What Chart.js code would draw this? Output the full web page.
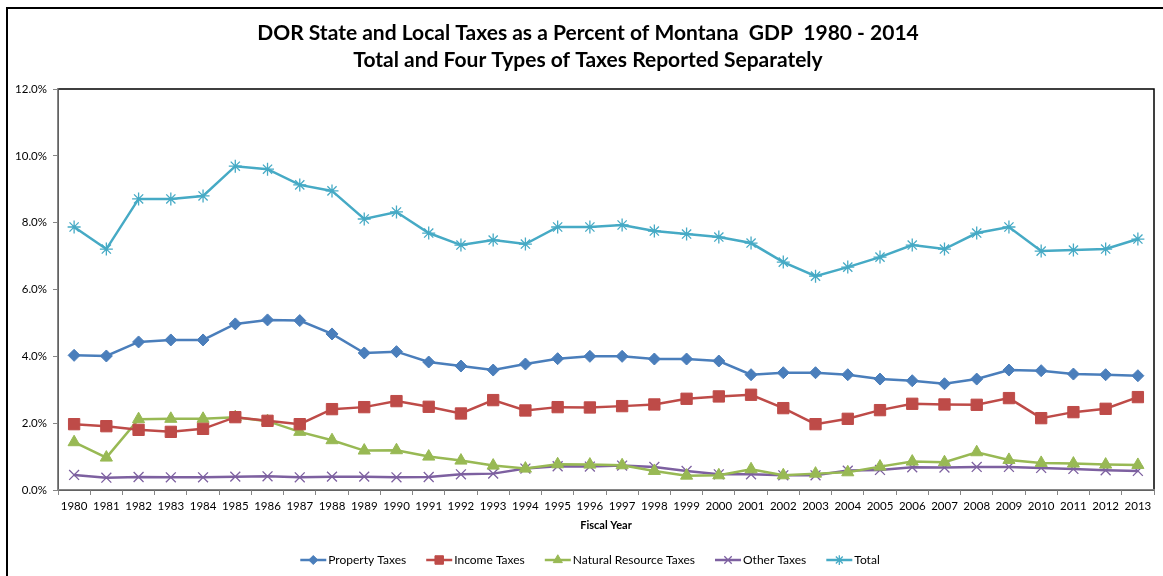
<!DOCTYPE html>
<html>
<head>
<meta charset="utf-8">
<script src="https://cdn.jsdelivr.net/npm/chart.js@4/dist/chart.umd.min.js"></script>
<style>
  html, body { margin: 0; padding: 0; background: #fff; }
</style>
</head>
<body>
<canvas id="chart" width="1163" height="576"></canvas>
<script>
const years = [
  "1980", "1981", "1982", "1983", "1984", "1985", "1986", "1987", "1988", "1989",
  "1990", "1991", "1992", "1993", "1994", "1995", "1996", "1997", "1998", "1999",
  "2000", "2001", "2002", "2003", "2004", "2005", "2006", "2007", "2008", "2009",
  "2010", "2011", "2012", "2013"
];

// values are percent of GDP
const propertyTaxes = [
  4.03, 4.01, 4.43, 4.49, 4.49, 4.97, 5.09, 5.07, 4.67, 4.10,
  4.14, 3.83, 3.71, 3.59, 3.77, 3.93, 4.00, 4.00, 3.92, 3.92,
  3.86, 3.45, 3.51, 3.51, 3.45, 3.32, 3.27, 3.18, 3.32, 3.59,
  3.57, 3.47, 3.45, 3.42
];
const incomeTaxes = [
  1.97, 1.91, 1.80, 1.74, 1.83, 2.18, 2.07, 1.97, 2.42, 2.48,
  2.66, 2.49, 2.29, 2.69, 2.38, 2.48, 2.47, 2.51, 2.56, 2.73,
  2.80, 2.85, 2.45, 1.97, 2.13, 2.39, 2.58, 2.56, 2.55, 2.75,
  2.15, 2.33, 2.43, 2.78
];
const naturalResourceTaxes = [
  1.43, 0.97, 2.12, 2.13, 2.13, 2.18, 2.06, 1.74, 1.49, 1.18,
  1.19, 1.00, 0.88, 0.73, 0.64, 0.77, 0.76, 0.74, 0.57, 0.43,
  0.44, 0.62, 0.44, 0.49, 0.53, 0.70, 0.85, 0.83, 1.13, 0.90,
  0.81, 0.79, 0.76, 0.75
];
const otherTaxes = [
  0.45, 0.37, 0.39, 0.38, 0.38, 0.40, 0.41, 0.38, 0.40, 0.40,
  0.38, 0.39, 0.47, 0.49, 0.64, 0.71, 0.70, 0.73, 0.69, 0.57,
  0.47, 0.47, 0.44, 0.44, 0.58, 0.60, 0.68, 0.67, 0.69, 0.69,
  0.66, 0.63, 0.59, 0.57
];
const totalTaxes = [
  7.87, 7.21, 8.71, 8.71, 8.80, 9.69, 9.60, 9.13, 8.95, 8.11,
  8.32, 7.69, 7.33, 7.48, 7.36, 7.87, 7.87, 7.93, 7.75, 7.66,
  7.57, 7.39, 6.82, 6.40, 6.67, 6.97, 7.33, 7.21, 7.69, 7.87,
  7.15, 7.18, 7.21, 7.51
];
const yTicks = [0, 2, 4, 6, 8, 10, 12];

const titleLines = [
  "DOR State and Local Taxes as a Percent of Montana  GDP  1980 - 2014",
  "Total and Four Types of Taxes Reported Separately"
];

const FONT = "Lato, 'Open Sans', sans-serif";
const axisGray = "#868686";

const colors = {
  property: "#4A7EBB",
  income: "#BE4B48",
  natural: "#98B954",
  other: "#7D60A0",
  total: "#46AAC5",
};

// frame, title and plot border
const framePlugin = {
  id: "frame",
  beforeDraw(chart) {
    const { ctx, chartArea } = chart;
    ctx.save();
    ctx.fillStyle = "#fff";
    ctx.fillRect(0, 0, chart.width, chart.height);
    ctx.strokeStyle = "#000";
    ctx.lineWidth = 2;
    ctx.strokeRect(7, 8, chart.width + 10, chart.height + 10);
    ctx.lineWidth = 1.5;
    ctx.strokeRect(chartArea.left, chartArea.top, chartArea.right - chartArea.left, chartArea.bottom - chartArea.top);

    ctx.fillStyle = "#000";
    ctx.font = "bold 21px " + FONT;
    ctx.textAlign = "center";
    ctx.textBaseline = "middle";
    ctx.fillText(titleLines[0], 588, 33);
    ctx.fillText(titleLines[1], 588, 60);
    ctx.restore();
  },
};

// Excel style legend: line with marker through it
const legendPlugin = {
  id: "lineLegend",
  afterDraw(chart) {
    const { ctx } = chart;
    const sets = chart.data.datasets;
    ctx.save();
    ctx.font = "12px " + FONT;
    ctx.textBaseline = "middle";
    ctx.textAlign = "left";
    const lineW = 26, gap = 2, spacing = 20;
    const widths = sets.map(d => lineW + gap + ctx.measureText(d.label).width);
    const total = widths.reduce((a, b) => a + b, 0) + spacing * (sets.length - 1);
    let x = 590 - total / 2;
    const y = 560;
    sets.forEach((d, i) => {
      ctx.strokeStyle = d.borderColor;
      ctx.lineWidth = 2.5;
      ctx.beginPath();
      ctx.moveTo(x, y);
      ctx.lineTo(x + lineW, y);
      ctx.stroke();
      ctx.fillStyle = d.pointBackgroundColor;
      ctx.strokeStyle = d.pointBorderColor;
      ctx.lineWidth = d.pointBorderWidth;
      Chart.helpers.drawPoint(ctx, {
        pointStyle: d.pointStyle,
        radius: d.pointRadius * 0.75,
        rotation: 0,
        borderWidth: d.pointBorderWidth,
      }, x + lineW / 2, y);
      ctx.fillStyle = "#000";
      ctx.fillText(d.label, x + lineW + gap, y);
      x += widths[i] + spacing;
    });
    ctx.restore();
  },
};

function series(label, data, color, style, radius, bw) {
  return {
    label: label,
    data: data,
    borderColor: color,
    backgroundColor: color,
    borderWidth: 2.5,
    pointStyle: style,
    pointRadius: radius,
    pointHoverRadius: radius,
    pointBackgroundColor: color,
    pointBorderColor: color,
    pointBorderWidth: bw,
    tension: 0,
  };
}

new Chart(document.getElementById("chart"), {
  type: "line",
  data: {
    labels: years,
    datasets: [
      series("Property Taxes", propertyTaxes, colors.property, "rectRot", 6, 1),
      series("Income Taxes", incomeTaxes, colors.income, "rect", 8, 1),
      series("Natural Resource Taxes", naturalResourceTaxes, colors.natural, "triangle", 7, 1),
      series("Other Taxes", otherTaxes, colors.other, "crossRot", 7, 1.3),
      series("Total", totalTaxes, colors.total, "star", 6.5, 1.3),
    ],
  },
  options: {
    responsive: false,
    animation: false,
    layout: { padding: { top: 89, right: 6, bottom: 44, left: 0 } },
    plugins: {
      legend: { display: false },
      title: { display: false },
      tooltip: { enabled: false },
    },
    scales: {
      x: {
        type: "category",
        offset: true,
        afterFit: s => { s.height = 42; },
        grid: { display: true, offset: true, drawOnChartArea: false, tickLength: 5, color: axisGray },
        border: { color: axisGray, width: 1.5 },
        ticks: {
          autoSkip: false, maxRotation: 0, minRotation: 0, padding: 4,
          color: "#000", font: { family: FONT, size: 11.5 },
        },
        title: {
          display: true, text: "Fiscal Year", color: "#000",
          font: { family: FONT, size: 11, weight: "bold" },
          padding: { top: 0, bottom: 0 },
        },
      },
      y: {
        min: 0,
        max: 12,
        afterFit: s => { s.width = 58; },
        afterBuildTicks: s => { s.ticks = yTicks.map(v => ({ value: v })); },
        grid: { display: true, drawOnChartArea: false, tickLength: 5, color: axisGray },
        border: { color: axisGray, width: 1.5 },
        ticks: {
          padding: 6, color: "#000", font: { family: FONT, size: 11.5 },
          callback: v => v.toFixed(1) + "%",
        },
      },
    },
  },
  plugins: [framePlugin, legendPlugin],
});
</script>
</body>
</html>
